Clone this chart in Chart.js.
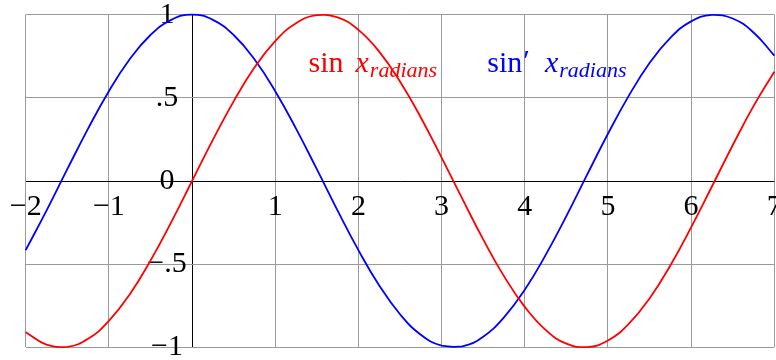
<!DOCTYPE html>
<html>
<head>
<meta charset="utf-8">
<script src="https://cdn.jsdelivr.net/npm/chart.js@4.4.1/dist/chart.umd.min.js"></script>
<style>
  html, body { margin: 0; padding: 0; background: #fff; }
  canvas { display: block; }
</style>
</head>
<body>
<canvas id="trigChart" width="776" height="360"></canvas>
<script>
// sample points along x (radians)
const xValues = [
  -2, -1.75, -1.5, -1.25, -1, -0.75, -0.5, -0.25, 0, 0.25, 0.5, 0.75,
  1, 1.25, 1.5, 1.75, 2, 2.25, 2.5, 2.75, 3, 3.25, 3.5, 3.75,
  4, 4.25, 4.5, 4.75, 5, 5.25, 5.5, 5.75, 6, 6.25, 6.5, 6.75, 7
];
const sinValues = [
  -0.909, -0.984, -0.997, -0.949, -0.841, -0.682, -0.479, -0.247, 0, 0.247, 0.479, 0.682,
  0.841, 0.949, 0.997, 0.984, 0.909, 0.778, 0.598, 0.382, 0.141, -0.108, -0.351, -0.572,
  -0.757, -0.895, -0.978, -0.999, -0.959, -0.859, -0.706, -0.508, -0.279, -0.033, 0.215, 0.450, 0.657
];
const cosValues = [
  -0.416, -0.178, 0.071, 0.315, 0.540, 0.732, 0.878, 0.969, 1, 0.969, 0.878, 0.732,
  0.540, 0.315, 0.071, -0.178, -0.416, -0.628, -0.801, -0.924, -0.990, -0.994, -0.936, -0.820,
  -0.654, -0.446, -0.211, 0.038, 0.284, 0.512, 0.709, 0.861, 0.960, 0.999, 0.977, 0.893, 0.754
];

const xTickValues = [-2, -1, 1, 2, 3, 4, 5, 6, 7];
const xTickLabels = ['\u22122', '\u22121', '1', '2', '3', '4', '5', '6', '7'];
const yTickValues = [-1, -0.5, 0, 0.5, 1];
const yTickLabels = ['\u22121', '\u2212.5', '0', '.5', '1'];

const SERIF = '"Liberation Serif", "Times New Roman", serif';

function toPoints(ys) {
  return xValues.map((x, i) => ({ x: x, y: ys[i] }));
}

// tick numbers sit next to the axes through the origin
const axisNumbers = {
  id: 'axisNumbers',
  beforeDatasetsDraw(chart) {
    const { ctx, scales } = chart;
    const xs = scales.x, ys = scales.y;
    const x0 = xs.getPixelForValue(0);
    const y0 = ys.getPixelForValue(0);
    ctx.save();
    ctx.fillStyle = '#000';
    ctx.font = '30px ' + SERIF;
    ctx.textAlign = 'center';
    ctx.textBaseline = 'middle';
    yTickValues.forEach((v, i) => {
      ctx.fillText(yTickLabels[i], x0 - 25, ys.getPixelForValue(v));
    });
    xTickValues.forEach((v, i) => {
      ctx.fillText(xTickLabels[i], xs.getPixelForValue(v), y0 + 26);
    });
    ctx.restore();
  }
};

// function names written inside the plot, sin x and its derivative
const curveNames = {
  id: 'curveNames',
  afterDatasetsDraw(chart) {
    const { ctx, scales } = chart;
    const upright = '30px ' + SERIF;
    const italic = 'italic 30px ' + SERIF;
    const sub = 'italic 22px ' + SERIF;
    const names = [
      { at: [1.4, 0.657], color: '#ff0000', parts: [
        { text: 'sin', font: upright, gap: 12 },
        { text: 'x', font: italic, gap: 1 },
        { text: 'radians', font: sub, dy: 5 }
      ] },
      { at: [3.55, 0.657], color: '#0000ff', parts: [
        { text: 'sin', font: upright, gap: 1 },
        { text: '\u2032', font: upright, gap: 15, dy: -2 },
        { text: 'x', font: italic, gap: 1 },
        { text: 'radians', font: sub, dy: 5 }
      ] }
    ];
    ctx.save();
    ctx.textAlign = 'left';
    ctx.textBaseline = 'alphabetic';
    names.forEach(n => {
      let cx = scales.x.getPixelForValue(n.at[0]);
      const base = scales.y.getPixelForValue(n.at[1]);
      ctx.fillStyle = n.color;
      n.parts.forEach(p => {
        ctx.font = p.font;
        ctx.fillText(p.text, cx, base + (p.dy || 0));
        cx += ctx.measureText(p.text).width + (p.gap || 0);
      });
    });
    ctx.restore();
  }
};

const gridColor = (c) => (c.tick && c.tick.value === 0 ? '#000' : '#9a9a9a');

new Chart(document.getElementById('trigChart'), {
  type: 'line',
  data: {
    datasets: [
      {
        label: 'sin',
        data: toPoints(sinValues),
        borderColor: '#ff0000',
        borderWidth: 1.8,
        pointRadius: 0,
        tension: 0.45,
        clip: false
      },
      {
        label: 'cos',
        data: toPoints(cosValues),
        borderColor: '#0000ff',
        borderWidth: 1.8,
        pointRadius: 0,
        tension: 0.45,
        clip: false
      }
    ]
  },
  plugins: [axisNumbers, curveNames],
  options: {
    responsive: false,
    animation: false,
    events: [],
    layout: {
      padding: { left: 25.7, right: 1.7, top: 14.7, bottom: 12.7 }
    },
    scales: {
      x: {
        type: 'linear',
        min: -2,
        max: 7,
        border: { display: false },
        grid: { color: gridColor, lineWidth: 1, drawTicks: false },
        ticks: { display: false, stepSize: 1 }
      },
      y: {
        type: 'linear',
        min: -1,
        max: 1,
        border: { display: false },
        grid: { color: gridColor, lineWidth: 1, drawTicks: false },
        ticks: { display: false, stepSize: 0.5 }
      }
    },
    plugins: {
      legend: { display: false },
      tooltip: { enabled: false }
    }
  }
});
</script>
</body>
</html>
